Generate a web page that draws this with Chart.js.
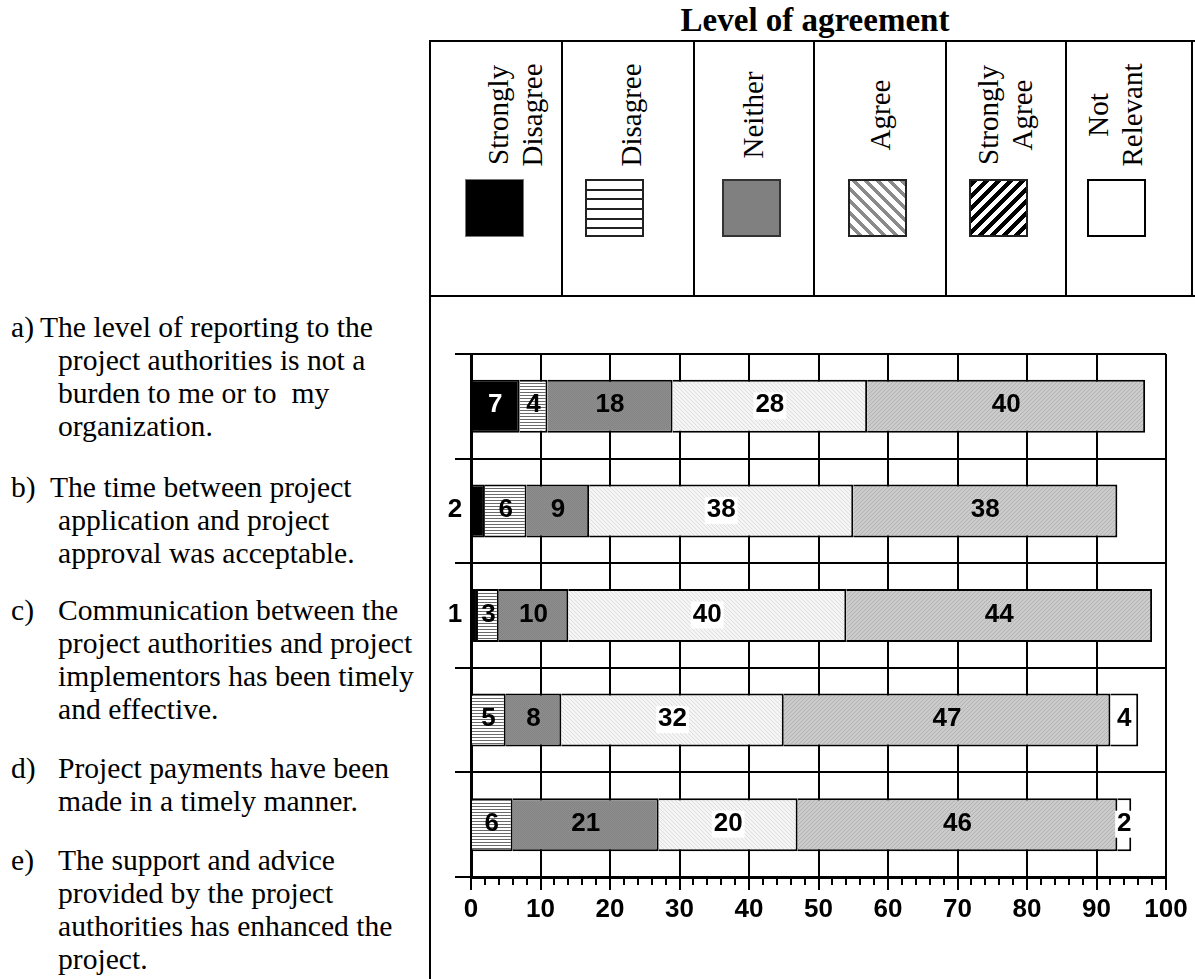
<!DOCTYPE html>
<html>
<head>
<meta charset="utf-8">
<title>Level of agreement</title>
<script src="https://cdn.jsdelivr.net/npm/chart.js@4.4.1/dist/chart.umd.min.js"></script>
<style>
  html, body { margin: 0; padding: 0; background: #fff; }
  #page { position: relative; width: 1195px; height: 979px; overflow: hidden;
          font-family: "Liberation Serif", "Times New Roman", serif; color: #000; }
  .rule { position: absolute; background: #000; }
  .title { position: absolute; left: 615px; width: 400px; top: 4px; text-align: center;
           font-size: 33px; line-height: 33px; font-weight: bold; white-space: nowrap; }
  .hdr { position: absolute; width: 200px; font-size: 29px; line-height: 34px; text-align: center;
         white-space: nowrap; transform: rotate(-90deg); }
  .swatch { position: absolute; box-sizing: border-box; width: 59px; height: 58px; }
  .item { position: absolute; left: 58px; font-size: 29.6px; line-height: 33px; white-space: pre; }
  .item .tag { position: absolute; left: -47px; top: 0; }
  #chart { position: absolute; left: 431px; top: 300px; }
</style>
</head>
<body>
<div id="page">
  <div class="title">Level of agreement</div>
  <div id="frame"></div>
  <div id="legend"></div>
  <div id="statements"></div>
  <canvas id="chart" width="764" height="679"></canvas>
</div>
<script>
// ---- data ----
const categories = ['a', 'b', 'c', 'd', 'e'];
const seriesNames = ['Strongly Disagree', 'Disagree', 'Neither', 'Agree', 'Strongly Agree', 'Not Relevant'];
const stronglyDisagree = [7, 2, 1, 0, 0];
const disagree         = [4, 6, 3, 5, 6];
const neither          = [18, 9, 10, 8, 21];
const agree            = [28, 38, 40, 32, 20];
const stronglyAgree    = [40, 38, 44, 47, 46];
const notRelevant      = [0, 0, 0, 4, 2];
const xTickValues = [0, 10, 20, 30, 40, 50, 60, 70, 80, 90, 100];

const statementTags = ['a)', 'b)', 'c)', 'd)', 'e)'];
const statements = [
  ['The level of reporting to the', 'project authorities is not a', 'burden to me or to  my', 'organization.'],
  ['The time between project', 'application and project', 'approval was acceptable.'],
  ['Communication between the', 'project authorities and project', 'implementors has been timely', 'and effective.'],
  ['Project payments have been', 'made in a timely manner.'],
  ['The support and advice', 'provided by the project', 'authorities has enhanced the', 'project.']
];

// ---- page layout ----
function rule(x, y, w, h) {
  const d = document.createElement('div');
  d.className = 'rule';
  Object.assign(d.style, { left: x + 'px', top: y + 'px', width: w + 'px', height: h + 'px' });
  document.getElementById('frame').appendChild(d);
}
rule(429, 40, 2, 939);            // left edge of the table
rule(429, 40, 766, 2);            // top edge
rule(429, 295, 766, 2);           // header / chart divider
const columnEdges = [562, 694, 814, 946, 1066, 1192];
columnEdges.forEach(x => rule(x - 1, 40, 2, 257));

// statement texts on the left
const statementTops = [311, 471, 594, 752, 844];
const firstLineIndent = [-18, -8, 0, 0, 0];
statements.forEach((lines, i) => {
  const d = document.createElement('div');
  d.className = 'item';
  d.style.top = statementTops[i] + 'px';
  const tag = document.createElement('span');
  tag.className = 'tag';
  tag.textContent = statementTags[i];
  d.appendChild(tag);
  lines.forEach((ln, k) => {
    const s = document.createElement('div');
    s.textContent = ln;
    if (k === 0) s.style.marginLeft = firstLineIndent[i] + 'px';
    d.appendChild(s);
  });
  document.getElementById('statements').appendChild(d);
});

// ---- fills ----
function tile(w, h, base, marks) {
  const c = document.createElement('canvas');
  c.width = w; c.height = h;
  const g = c.getContext('2d');
  g.fillStyle = base; g.fillRect(0, 0, w, h);
  marks.forEach(([x, y, col]) => { g.fillStyle = col; g.fillRect(x, y, 1, 1); });
  return g.createPattern(c, 'repeat');
}
const barFills = [
  '#000000',
  tile(3, 3, '#ffffff', [[0, 2, '#6a6a6a'], [1, 2, '#6a6a6a'], [2, 2, '#6a6a6a']]),
  tile(2, 2, '#838383', [[0, 0, '#8f8f8f'], [1, 1, '#8f8f8f']]),
  tile(4, 4, '#f5f5f5', [[0, 0, '#dedede'], [1, 1, '#dedede'], [2, 2, '#dedede'], [3, 3, '#dedede']]),
  tile(4, 4, '#cbcbcb', [[3, 0, '#b3b3b3'], [2, 1, '#b3b3b3'], [1, 2, '#b3b3b3'], [0, 3, '#b3b3b3']]),
  '#ffffff'
];
const swatchStyles = [
  'background:#000;border:1px solid #777;',
  'background:repeating-linear-gradient(to bottom,#fff 0 7.6px,#222 7.6px 9.7px);border:2px solid #222;',
  'background:#808080;border:2px solid #333;',
  'background:repeating-linear-gradient(45deg,#fff 0 5px,#8a8a8a 5px 8.5px);border:2px solid #222;',
  'background:repeating-linear-gradient(-45deg,#fff 0 4.5px,#000 4.5px 8.5px);border:2px solid #222;',
  'background:#fff;border:2px solid #000;'
];
const labelTextColor = ['#ffffff', '#000', '#000', '#000', '#000', '#000'];
const labelBoxed = [false, false, false, true, false, true];

// header legend: rotated series names over their swatches
const headerTextX = [515, 631, 753, 880, 1005, 1115];
const swatchX = [465, 585, 722, 848, 969, 1087];
seriesNames.forEach((name, i) => {
  const words = name.split(' ');
  const h = document.createElement('div');
  h.className = 'hdr';
  h.style.height = (words.length * 34) + 'px';
  h.style.left = (headerTextX[i] - 100) + 'px';
  h.style.top = (115 - words.length * 17) + 'px';
  h.innerHTML = words.join('<br>');
  document.getElementById('legend').appendChild(h);
  const s = document.createElement('div');
  s.className = 'swatch';
  s.style.cssText += swatchStyles[i] + 'left:' + swatchX[i] + 'px;top:179px;';
  document.getElementById('legend').appendChild(s);
});

// ---- chart ----
const seriesValues = [stronglyDisagree, disagree, neither, agree, stronglyAgree, notRelevant];
const valueFont = 'bold 26px "Liberation Sans", Arial, sans-serif';

const valueLabels = {
  id: 'valueLabels',
  afterDatasetsDraw(chart) {
    const ctx = chart.ctx;
    const area = chart.chartArea;
    const xs = chart.scales.x;
    ctx.save();
    ctx.font = valueFont;
    ctx.textAlign = 'center';
    ctx.textBaseline = 'middle';
    chart.data.datasets.forEach((ds, di) => {
      chart.getDatasetMeta(di).data.forEach((bar, i) => {
        const v = ds.data[i];
        if (!v) return;
        let start = 0;
        for (let k = 0; k < di; k++) start += chart.data.datasets[k].data[i];
        const text = String(v);
        const w = ctx.measureText(text).width;
        const x0 = xs.getPixelForValue(start);
        const x1 = xs.getPixelForValue(start + v);
        let x = (x0 + x1) / 2;
        let color = labelTextColor[di];
        // narrow segments sitting on the axis get their label outside, left of the axis
        if (start === 0 && (x1 - x0) < w + 2) {
          x = area.left - 16;
          color = '#000';
        }
        const y = bar.y - 1;
        if (labelBoxed[di]) {
          ctx.fillStyle = '#fff';
          ctx.fillRect(x - w / 2 - 2, y - 13, w + 4, 27);
        }
        ctx.fillStyle = color;
        ctx.fillText(text, x, y);
      });
    });
    ctx.restore();
  }
};

const minorTicks = {
  id: 'minorTicks',
  afterDraw(chart) {
    const xs = chart.scales.x;
    const ctx = chart.ctx;
    const y0 = chart.chartArea.bottom;
    ctx.save();
    ctx.strokeStyle = '#000';
    ctx.lineWidth = 2;
    for (let v = xs.min; v <= xs.max; v += 2) {
      if (v % 10 === 0) continue;
      const x = Math.round(xs.getPixelForValue(v));
      ctx.beginPath();
      ctx.moveTo(x, y0);
      ctx.lineTo(x, y0 + 8);
      ctx.stroke();
    }
    ctx.restore();
  }
};

new Chart(document.getElementById('chart'), {
  type: 'bar',
  data: {
    labels: categories,
    datasets: seriesNames.map((name, i) => ({
      label: name,
      data: seriesValues[i],
      backgroundColor: barFills[i],
      borderColor: '#000',
      borderWidth: 2,
      barPercentage: 0.507,
      categoryPercentage: 1.0
    }))
  },
  options: {
    indexAxis: 'y',
    responsive: false,
    devicePixelRatio: 1,
    animation: false,
    layout: { padding: { top: 54, right: 29, left: 0, bottom: 0 } },
    plugins: { legend: { display: false }, tooltip: { enabled: false } },
    scales: {
      x: {
        stacked: true,
        min: 0,
        max: 100,
        afterBuildTicks: s => { s.ticks = xTickValues.map(v => ({ value: v })); },
        afterFit: s => { s.height = 102; },
        ticks: {
          color: '#000',
          padding: 4,
          maxRotation: 0,
          autoSkip: false,
          font: { family: '"Liberation Sans", Arial, sans-serif', size: 26, weight: 'bold' }
        },
        grid: { color: '#000', lineWidth: 2, drawTicks: true, tickLength: 13, tickColor: '#000' },
        border: { display: true, color: '#000', width: 3 }
      },
      y: {
        stacked: true,
        afterFit: s => { s.width = 40; },
        ticks: { display: false },
        grid: { offset: true, color: '#000', lineWidth: 2, drawTicks: true, tickLength: 16, tickColor: '#000' },
        border: { display: true, color: '#000', width: 3 }
      }
    }
  },
  plugins: [valueLabels, minorTicks]
});
</script>
</body>
</html>
